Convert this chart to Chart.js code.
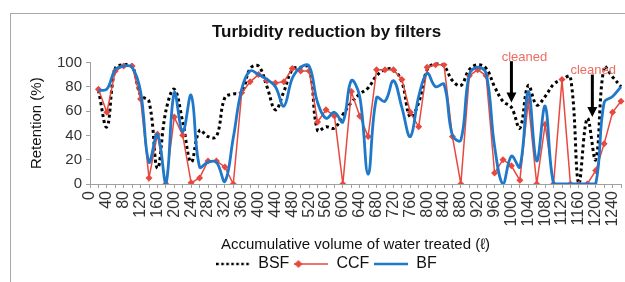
<!DOCTYPE html>
<html>
<head>
<meta charset="utf-8">
<script src="https://cdn.jsdelivr.net/npm/chart.js@4.4.1/dist/chart.umd.min.js"></script>
<style>
  html, body { margin: 0; padding: 0; background: #fff; overflow: hidden; }
  #wrap { position: relative; width: 625px; height: 282px; }
  #frame { position: absolute; left: 10px; top: 13px; width: 700px; height: 300px; border: 1px solid #a8a8a8; pointer-events: none; }
</style>
</head>
<body>
<div id="wrap">
  <canvas id="turbidityChart" width="625" height="282"></canvas>
  <div id="frame"></div>
</div>
<script>
// accumulative volume (litres), one category every 20
const volumes = [0, 20, 40, 60, 80, 100, 120, 140, 160, 180, 200, 220, 240, 260, 280, 300,
  320, 340, 360, 380, 400, 420, 440, 460, 480, 500, 520, 540, 560, 580, 600, 620,
  640, 660, 680, 700, 720, 740, 760, 780, 800, 820, 840, 860, 880, 900, 920, 940,
  960, 980, 1000, 1020, 1040, 1060, 1080, 1100, 1120, 1140, 1160, 1180, 1200, 1220, 1240, 1260];

// retention (%) per filter
const bsf = [null, 77, 47, 95, 98, 97, 73, 68, 13, 60, 78,
  51, 18, 44, 39, 39, 71, 74, 75, 95, 97,
  80, 61, 76, 94, 96, 96, 44, 47, 46, 57,
  67, 74, 79, 89, 94, 94, 84, 55, 67, 94,
  99, 97, 85, 81, 94, 98, 95, 80, 68, 63,
  46, 81, 65, 72, 82, 86, 88, 0, 54, 20,
  96, 88, 80];
const ccf = [null, 78, 59, 93, 97, 97, 70, 5, 41, 0, 55,
  40, 1, 5, 19, 19, 14, 0, 75, 84, 90,
  85, 83, 84, 95, 93, 93, 51, 61, 56, 0,
  76, 56, 39, 94, 94, 94, 86, 59, 47, 96,
  98, 98, 39, 0, 89, 94, 89, 9, 20, 15,
  3, 68, 0, 49, 0, 86, 0, 0, 0, 11,
  33, 59, 68];
const bf = [null, 77, 78, 94, 97, 96, 76, 18, 41, 0, 75,
  43, 73, 14, 18, 18, 2, 38, 78, 93, 90,
  86, 80, 64, 87, 96, 97, 67, 54, 59, 51,
  85, 72, 8, 71, 68, 85, 63, 39, 72, 91,
  80, 82, 40, 36, 90, 96, 91, 31, 0, 23,
  14, 76, 19, 64, 0, 0, 0, 0, 0, 0,
  67, 72, 80];

// "cleaned" notes: text position and arrow (volume, retention)
const notes = [
  { text: 'cleaned', tx: 1031, ty: 104, ax: 1000, top: 101, tip: 67 },
  { text: 'cleaned', tx: 1194, ty: 93, ax: 1192, top: 90, tip: 55 }
];

const FONT = "'Liberation Sans', Arial, sans-serif";
const RED = '#e8493f';
const BLUE = '#1f78c8';

function legendSymbol(kind) {
  const c = document.createElement('canvas');
  c.width = 34; c.height = 10;
  const g = c.getContext('2d');
  g.beginPath();
  g.moveTo(0, 5); g.lineTo(34, 5);
  if (kind === 'bsf') {
    g.strokeStyle = '#000'; g.lineWidth = 2.5; g.setLineDash([2.5, 2.5]);
  } else if (kind === 'ccf') {
    g.strokeStyle = RED; g.lineWidth = 1.5;
  } else {
    g.strokeStyle = BLUE; g.lineWidth = 2.5;
  }
  g.stroke();
  if (kind === 'ccf') {
    g.fillStyle = RED;
    g.beginPath();
    g.moveTo(4, 1); g.lineTo(8, 5); g.lineTo(4, 9); g.lineTo(0, 5);
    g.closePath(); g.fill();
  }
  return c;
}
const symbols = [legendSymbol('bsf'), legendSymbol('ccf'), legendSymbol('bf')];

const notePlugin = {
  id: 'cleanedNotes',
  afterDraw(chart) {
    const ctx = chart.ctx;
    const xs = chart.scales.x, ys = chart.scales.y;
    ctx.save();
    notes.forEach(n => {
      ctx.fillStyle = '#ef6b5f';
      ctx.font = '13px ' + FONT;
      ctx.textAlign = 'center';
      ctx.textBaseline = 'middle';
      ctx.fillText(n.text, xs.getPixelForValue(n.tx / 20), ys.getPixelForValue(n.ty));
      const x = xs.getPixelForValue(n.ax / 20);
      const y0 = ys.getPixelForValue(n.top);
      const y1 = ys.getPixelForValue(n.tip);
      ctx.strokeStyle = '#000';
      ctx.lineWidth = 3;
      ctx.beginPath();
      ctx.moveTo(x, y0); ctx.lineTo(x, y1 - 8);
      ctx.stroke();
      ctx.fillStyle = '#000';
      ctx.beginPath();
      ctx.moveTo(x - 5, y1 - 10); ctx.lineTo(x + 5, y1 - 10); ctx.lineTo(x, y1);
      ctx.closePath(); ctx.fill();
    });
    ctx.restore();
  }
};

const ctx = document.getElementById('turbidityChart').getContext('2d');
new Chart(ctx, {
  type: 'line',
  data: {
    labels: volumes,
    datasets: [
      {
        label: 'BSF',
        data: bsf,
        borderColor: '#000',
        borderWidth: 3,
        borderDash: [3, 3],
        pointRadius: 0,
        tension: 0.4,
        order: 2
      },
      {
        label: 'CCF',
        data: ccf,
        borderColor: RED,
        backgroundColor: RED,
        borderWidth: 1.5,
        pointStyle: 'rectRot',
        pointRadius: 3.5,
        pointBorderWidth: 0,
        pointBackgroundColor: RED,
        tension: 0,
        order: 1
      },
      {
        label: 'BF',
        data: bf,
        borderColor: BLUE,
        borderWidth: 2.8,
        pointRadius: 0,
        tension: 0.4,
        order: 0
      }
    ]
  },
  options: {
    responsive: false,
    animation: false,
    layout: { padding: { left: 32, right: 4, top: 0, bottom: 0 } },
    plugins: {
      title: {
        display: true,
        text: 'Turbidity reduction by filters',
        color: '#111',
        font: { family: FONT, size: 17, weight: 'bold' },
        padding: { top: 22, bottom: 20 }
      },
      legend: {
        position: 'bottom',
        labels: {
          usePointStyle: true,
          pointStyleWidth: 34,
          boxHeight: 10,
          color: '#111',
          padding: 5,
          font: { family: FONT, size: 16 },
          generateLabels(chart) {
            const items = Chart.defaults.plugins.legend.labels.generateLabels(chart);
            items.forEach(it => { it.pointStyle = symbols[it.datasetIndex]; });
            return items.sort((a, b) => a.datasetIndex - b.datasetIndex);
          }
        }
      },
      tooltip: { enabled: false }
    },
    scales: {
      x: {
        type: 'category',
        offset: false,
        grid: { drawOnChartArea: false, tickLength: 4, color: '#a0a0a0' },
        border: { color: '#a0a0a0' },
        ticks: {
          autoSkip: false,
          minRotation: 90,
          maxRotation: 90,
          padding: 3,
          color: '#333',
          font: { family: FONT, size: 16 },
          callback: (v, i) => (i % 2 === 0 && i <= 62 ? volumes[i] : '')
        },
        title: {
          display: true,
          text: 'Accumulative volume of water treated (ℓ)',
          color: '#111',
          font: { family: FONT, size: 15 },
          padding: { top: 2, bottom: -3 }
        },
        afterFit: s => { s.height = 67; s.paddingRight = 0; s.paddingLeft = 0; }
      },
      y: {
        min: 0,
        max: 100,
        grid: { drawOnChartArea: false, tickLength: 4, color: '#a0a0a0' },
        border: { color: '#a0a0a0' },
        ticks: { stepSize: 10, padding: 4, color: '#333', font: { family: FONT, size: 15 } },
        title: {
          display: true,
          text: 'Retention (%)',
          color: '#111',
          font: { family: FONT, size: 15 },
          padding: { top: -4, bottom: 0 }
        },
        afterFit: s => { s.width = 58; }
      }
    }
  },
  plugins: [notePlugin]
});
</script>
</body>
</html>
